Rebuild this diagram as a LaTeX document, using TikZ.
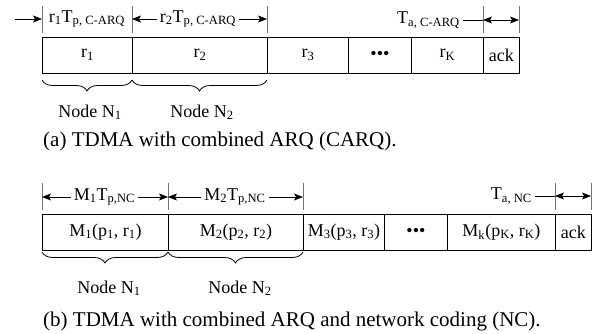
\documentclass[tikz,border=0pt]{standalone}
\usepackage{fontspec}
\setmainfont{Liberation Serif}
\usetikzlibrary{arrows.meta,decorations.pathreplacing}
\begin{document}
\begin{tikzpicture}[x=1pt,y=-1pt,
  cell/.style={draw, line width=0.9pt, minimum height=36pt, inner sep=0pt,
    font=\fontsize{18}{20}\selectfont, anchor=west},
  dim/.style={font=\fontsize{18}{20}\selectfont, inner sep=3pt},
  tickl/.style={draw=black!55, line width=1pt},
  plain/.style={line width=0.8pt},
  arr/.style={line width=0.8pt, -{Stealth[length=9pt,width=7pt,inset=2pt]}},
  darr/.style={line width=0.8pt, {Stealth[length=9pt,width=7pt,inset=2pt]}-{Stealth[length=9pt,width=7pt,inset=2pt]}},
  brc/.style={decorate, decoration={brace, mirror, amplitude=11pt}, line width=0.8pt},
  lbl/.style={font=\fontsize{18}{20}\selectfont, anchor=base, inner sep=0pt},
  captxt/.style={font=\fontsize{21}{24}\selectfont, anchor=base west, inner sep=0pt}]
\useasboundingbox (0,0) rectangle (598,333);

% ---------------- (a) ----------------
\node[cell, minimum width=90pt]  (a1) at (42,55)  {r\textsubscript{1}};
\node[cell, minimum width=135pt] (a2) at (132,55) {r\textsubscript{2}};
\node[cell, minimum width=81pt]  (a3) at (267,55) {r\textsubscript{3}};
\node[cell, minimum width=63pt]  (a4) at (348,55) {•••};
\node[cell, minimum width=72pt]  (a5) at (411,55) {r\textsubscript{K}};
\node[cell, minimum width=36pt]  (a6) at (483,55) {ack};

\foreach \x/\n in {42/0,132/1,267/2,483/3,519/4}{
  \coordinate (at\n) at (\x,6);
  \coordinate (ab\n) at (\x,33);
  \draw[tickl] (at\n) -- (ab\n);
}
\coordinate (s0) at (15,19);
\coordinate (p0) at (42,19);
\coordinate (p1) at (132,19);
\coordinate (p2) at (267,19);
\coordinate (p3) at (483,20);
\coordinate (p4) at (519,20);
\draw[arr] (s0) -- (p0);
\node[dim] (d1) at (87,19) {r\textsubscript{1}T\textsubscript{p, C-ARQ}};
\node[dim] (d2) at (198,19) {r\textsubscript{2}T\textsubscript{p, C-ARQ}};
\draw[arr] (d2.west) -- (p1);
\draw[arr] (d2.east) -- (p2);
\node[dim, anchor=east] (d3) at (463,20) {T\textsubscript{a, C-ARQ}};
\draw[plain] (d3.east) -- (p3);
\draw[darr] (p3) -- (p4);

\coordinate (ba0) at (42,80);
\coordinate (ba1) at (132,80);
\coordinate (ba2) at (267,80);
\draw[brc] (ba0) -- (ba1);
\draw[brc] (ba1) -- (ba2);
\node[lbl] (na1) at (90,117) {Node N\textsubscript{1}};
\node[lbl] (na2) at (202,117) {Node N\textsubscript{2}};

\node[captxt] (capa) at (43,146) {(a) TDMA with combined ARQ (CARQ).};

% ---------------- (b) ----------------
\node[cell, minimum width=126pt] (b1) at (42,232)  {M\textsubscript{1}(p\textsubscript{1}, r\textsubscript{1})};
\node[cell, minimum width=135pt] (b2) at (168,232) {M\textsubscript{2}(p\textsubscript{2}, r\textsubscript{2})};
\node[cell, minimum width=81pt]  (b3) at (303,232) {M\textsubscript{3}(p\textsubscript{3}, r\textsubscript{3})};
\node[cell, minimum width=63pt]  (b4) at (384,232) {•••};
\node[cell, minimum width=108pt] (b5) at (447,232) {M\textsubscript{k}(p\textsubscript{K}, r\textsubscript{K})};
\node[cell, minimum width=36pt]  (b6) at (555,232) {ack};

\foreach \x/\n in {42/0,168/1,303/2,555/3,591/4}{
  \coordinate (bt\n) at (\x,183);
  \coordinate (bb\n) at (\x,210);
  \draw[tickl] (bt\n) -- (bb\n);
}
\coordinate (q0) at (42,197);
\coordinate (q1) at (168,197);
\coordinate (q2) at (303,197);
\coordinate (q3) at (555,196);
\coordinate (q4) at (591,196);
\node[dim] (e1) at (104.5,197) {M\textsubscript{1}T\textsubscript{p,NC}};
\draw[arr] (e1.west) -- (q0);
\draw[arr] (e1.east) -- (q1);
\node[dim] (e2) at (235,197) {M\textsubscript{2}T\textsubscript{p,NC}};
\draw[arr] (e2.west) -- (q1);
\draw[arr] (e2.east) -- (q2);
\node[dim, anchor=east] (e3) at (535,196) {T\textsubscript{a, NC}};
\draw[plain] (e3.east) -- (q3);
\draw[darr] (q3) -- (q4);

\coordinate (bc0) at (42,252);
\coordinate (bc1) at (168,252);
\coordinate (bc2) at (303,252);
\draw[brc] (bc0) -- (bc1);
\draw[brc] (bc1) -- (bc2);
\node[lbl] (nb1) at (109,293) {Node N\textsubscript{1}};
\node[lbl] (nb2) at (240,293) {Node N\textsubscript{2}};

\node[captxt] (capb) at (43,326) {(b) TDMA with combined ARQ and network coding (NC).};
\end{tikzpicture}
\end{document}
